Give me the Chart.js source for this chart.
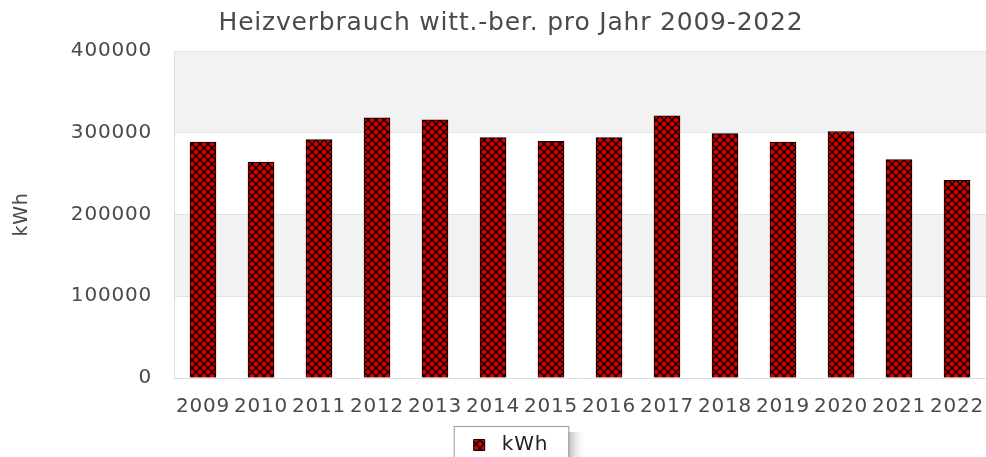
<!DOCTYPE html>
<html>
<head>
<meta charset="utf-8">
<script src="https://cdn.jsdelivr.net/npm/chart.js@4"></script>
<style>
  html, body { margin: 0; padding: 0; background: #fff; }
  #wrap { width: 986px; height: 457px; position: relative; }
</style>
</head>
<body>
<div id="wrap"><canvas id="heatChart"></canvas></div>
<script>
// data
const years = ['2009', '2010', '2011', '2012', '2013', '2014', '2015', '2016', '2017', '2018', '2019', '2020', '2021', '2022'];
const kwhValues = [288700, 264200, 291600, 318200, 315700, 294100, 289600, 294100, 320600, 299000, 288700, 301500, 267100, 241700];
const yTicks = [0, 100000, 200000, 300000, 400000];

Chart.defaults.font.family = "'DejaVu Sans', sans-serif";

// red fill with black cross-hatch
const makeHatch = () => {
    const c = document.createElement('canvas');
    c.width = 8; c.height = 8;
    const g = c.getContext('2d');
    g.fillStyle = '#d40000';
    g.fillRect(0, 0, 8, 8);
    g.strokeStyle = '#000';
    g.lineWidth = 1.3;
    g.beginPath();
    g.moveTo(0, 0); g.lineTo(8, 8);
    g.moveTo(0, 8); g.lineTo(8, 0);
    g.stroke();
    return g.createPattern(c, 'repeat');
};

// the original text is a bit wider spaced
const spacingPlugin = {
    id: 'spacing',
    beforeUpdate(chart) { chart.ctx.letterSpacing = '0.8px'; },
    beforeDraw(chart) { chart.ctx.letterSpacing = '0.8px'; }
};

// grey bands behind every other step
const bandsPlugin = {
    id: 'bands',
    beforeDraw(chart) {
        const { ctx, chartArea, scales } = chart;
        const y = scales.y;
        ctx.save();
        ctx.fillStyle = '#f2f2f2';
        [[100000, 200000], [300000, 400000]].forEach(([a, b]) => {
            const top = y.getPixelForValue(b);
            const bot = y.getPixelForValue(a);
            ctx.fillRect(chartArea.left, top, chartArea.right - chartArea.left, bot - top);
        });
        ctx.restore();
    }
};

// frame and shadow around the legend
const legendFramePlugin = {
    id: 'legendFrame',
    beforeDraw(chart) {
        const lg = chart.legend;
        if (!lg || !lg.legendItems.length) return;
        const hit = lg.legendHitBoxes[0];
        const x = hit.left - 20, y = hit.top - 9, w = hit.width + 40, h = 40;
        const { ctx } = chart;
        ctx.save();
        const grad = ctx.createLinearGradient(x + w, 0, x + w + 16, 0);
        grad.addColorStop(0, '#bdbdbd');
        grad.addColorStop(1, 'rgba(235,235,235,0)');
        ctx.fillStyle = grad;
        ctx.fillRect(x + w, y + 6, 16, h);
        ctx.fillStyle = '#fff';
        ctx.fillRect(x, y, w, h);
        ctx.strokeStyle = '#9a9a9a';
        ctx.lineWidth = 1;
        ctx.strokeRect(x + 0.5, y + 0.5, w, h);
        ctx.restore();
    }
};

document.addEventListener("DOMContentLoaded", () => {
    const ctx = document.getElementById("heatChart").getContext("2d");
    const hatch = makeHatch();

    new Chart(ctx, {
        type: 'bar',
        data: {
            labels: years,
            datasets: [{
                label: 'kWh',
                data: kwhValues,
                backgroundColor: hatch,
                borderColor: '#000',
                borderWidth: 1,
                barThickness: 26
            }]
        },
        options: {
            responsive: true,
            maintainAspectRatio: false,
            animation: false,
            layout: { padding: { left: 36, right: 0, top: 0, bottom: -8 } },
            plugins: {
                title: {
                    display: true,
                    text: 'Heizverbrauch witt.-ber. pro Jahr 2009-2022',
                    color: '#4a4a4a',
                    font: { size: 25, weight: 'normal', lineHeight: 1.2 },
                    padding: { top: 8, bottom: 13 }
                },
                legend: {
                    position: 'bottom',
                    labels: {
                        color: '#222',
                        font: { size: 20 },
                        boxWidth: 11,
                        boxHeight: 11,
                        padding: 10,
                        generateLabels: (chart) => Chart.defaults.plugins.legend.labels.generateLabels(chart)
                            .map(item => ({ ...item, text: ' ' + item.text }))
                    }
                },
                tooltip: { enabled: false }
            },
            scales: {
                x: {
                    grid: { display: false, drawTicks: false },
                    border: { display: true, color: '#dddddd' },
                    afterFit: (scale) => {
                        scale.height = 47;
                        scale.paddingLeft = 0;
                        scale.paddingRight = 0;
                    },
                    ticks: {
                        color: '#4a4a4a',
                        font: { size: 20, lineHeight: 1.2 },
                        padding: 17,
                        maxRotation: 0,
                        autoSkip: false
                    }
                },
                y: {
                    min: 0,
                    max: 400000,
                    afterBuildTicks: (scale) => { scale.ticks = yTicks.map(v => ({ value: v })); },
                    afterFit: (scale) => { scale.width = 138; },
                    grid: { color: '#e2e2e2', drawTicks: false },
                    border: { display: true, color: '#dddddd' },
                    title: {
                        display: true,
                        text: 'kWh',
                        color: '#4a4a4a',
                        font: { size: 19 },
                        padding: { top: -25, bottom: 0 }
                    },
                    ticks: {
                        color: '#4a4a4a',
                        font: { size: 20 },
                        padding: 22,
                        callback: (v) => String(v)
                    }
                }
            }
        },
        plugins: [spacingPlugin, bandsPlugin, legendFramePlugin]
    });
});
</script>
</body>
</html>
